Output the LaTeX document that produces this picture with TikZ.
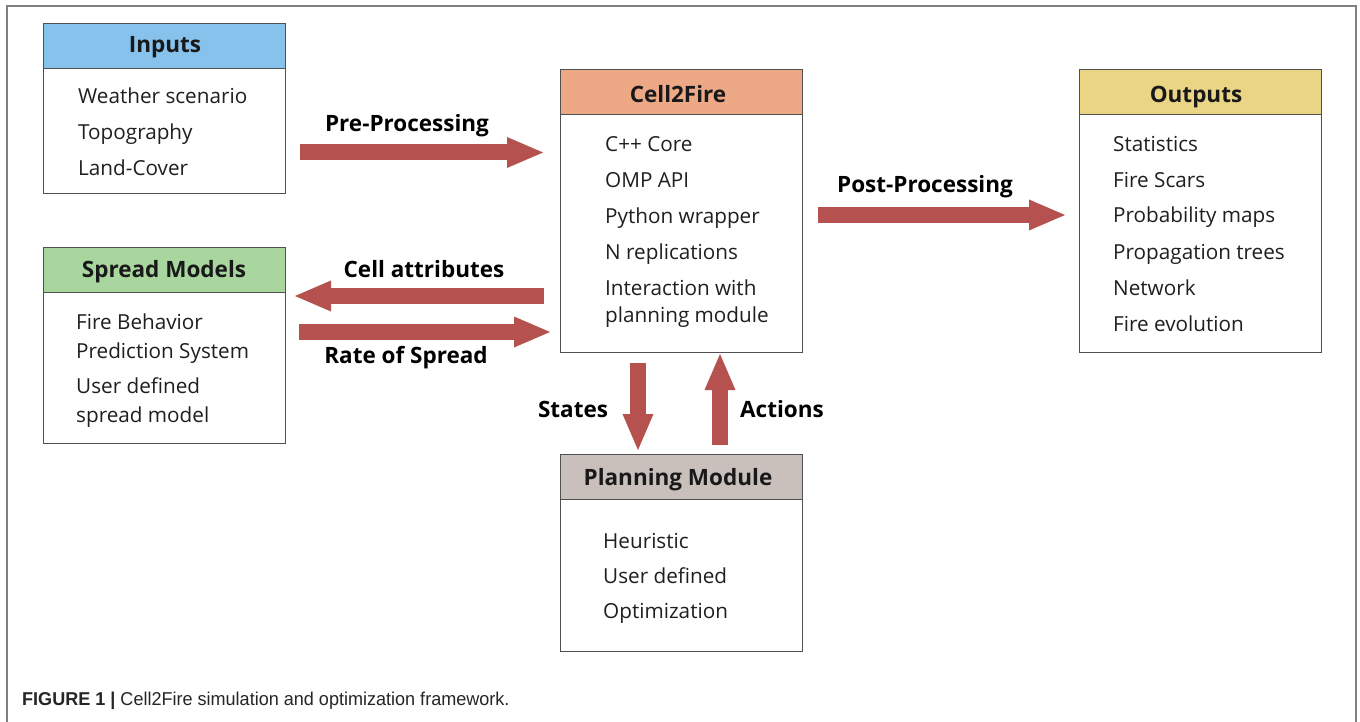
\documentclass[tikz,border=0pt]{standalone}
\usepackage{fontspec}
\setmainfont{Open Sans}
\newfontfamily\capfont[FakeStretch=0.97]{Liberation Sans}
\usetikzlibrary{arrows.meta}
\definecolor{inblue}{HTML}{86C2EC}
\definecolor{cellor}{HTML}{EDA886}
\definecolor{outyel}{HTML}{EAD584}
\definecolor{sprgrn}{HTML}{A9D59E}
\definecolor{plangr}{HTML}{C9C0BC}
\definecolor{arrred}{HTML}{B5524F}
\definecolor{boxline}{HTML}{505050}
\definecolor{framegr}{HTML}{808080}
\tikzset{
  hdr/.style={draw=boxline, line width=1.2pt, minimum width=242pt, minimum height=45pt, anchor=north west, inner sep=0pt},
  bodybox/.style={draw=boxline, line width=1.2pt, minimum width=242pt, anchor=north west, inner sep=0pt},
  hdrtxt/.style={font=\fontsize{22.5}{26}\selectfont\bfseries, anchor=base, inner sep=0pt, text=black!90},
  txt/.style={font=\fontsize{20.7}{24}\selectfont, anchor=base west, inner sep=0pt, text=black!88},
  lbl/.style={font=\fontsize{22.5}{26}\selectfont\bfseries, anchor=base, inner sep=0pt, text=black},
  bigarrow/.style={draw=arrred, line width=16pt, -{Triangle[length=36pt,width=31pt,line width=0pt]}},
}
\begin{document}
\begin{tikzpicture}[x=1pt,y=-1pt]
\useasboundingbox (0,0) rectangle (1360,722);
\fill[white] (0,0) rectangle (1360,722);
% frame
\draw[framegr, line width=1.6pt] (7,722) -- (7,6) -- (1356,6) -- (1356,722);

% Inputs
\node[hdr, fill=inblue] (inh) at (43,23) {};
\node[bodybox, minimum height=125pt] (inb) at (43,68) {};
\node[hdrtxt] at (165,53) {Inputs};
\node[txt] at (78,104) {Weather scenario};
\node[txt] at (78,140) {Topography};
\node[txt] at (78,176) {Land-Cover};

% Spread models
\node[hdr, fill=sprgrn] (sph) at (43,247) {};
\node[bodybox, minimum height=151pt] (spb) at (43,292) {};
\node[hdrtxt] at (164,277) {Spread Models};
\node[txt] at (76,329) {Fire Behavior};
\node[txt] at (76,358) {Prediction System};
\node[txt] at (76,393) {User defined};
\node[txt] at (76,422) {spread model};

% Cell2Fire
\node[hdr, fill=cellor] (ch) at (560,69) {};
\node[bodybox, minimum height=238pt] (cb) at (560,114) {};
\node[hdrtxt] at (678,103) {Cell2Fire};
\node[txt] at (605,152) {C++ Core};
\node[txt] at (605,188) {OMP API};
\node[txt] at (605,224) {Python wrapper};
\node[txt] at (605,259) {N replications};
\node[txt] at (605,295) {Interaction with};
\node[txt] at (605,322) {planning module};

% Outputs
\node[hdr, fill=outyel] (oh) at (1079,69) {};
\node[bodybox, minimum height=238pt] (ob) at (1079,114) {};
\node[hdrtxt] at (1196,103) {Outputs};
\node[txt] at (1113,152) {Statistics};
\node[txt] at (1113,188) {Fire Scars};
\node[txt] at (1113,223) {Probability maps};
\node[txt] at (1113,259) {Propagation trees};
\node[txt] at (1113,295) {Network};
\node[txt] at (1113,331) {Fire evolution};

% Planning
\node[hdr, fill=plangr] (ph) at (560,454) {};
\node[bodybox, minimum height=152pt] (pb) at (560,499) {};
\node[hdrtxt] at (678,485) {Planning Module};
\node[txt] at (603,548) {Heuristic};
\node[txt] at (603,583) {User defined};
\node[txt] at (603,618) {Optimization};

% arrow coordinates
\coordinate (preA) at (300,152.5);
\coordinate (preB) at (543,152.5);
\coordinate (postA) at (818,215);
\coordinate (postB) at (1065,215);
\coordinate (caA) at (544,296);
\coordinate (caB) at (295,296);
\coordinate (rsA) at (299,332);
\coordinate (rsB) at (550,332);
\coordinate (stA) at (638,363);
\coordinate (stB) at (638,450);
\coordinate (acA) at (720,445);
\coordinate (acB) at (720,354);

\draw[bigarrow] (preA) -- (preB);
\draw[bigarrow] (postA) -- (postB);
\draw[bigarrow] (caA) -- (caB);
\draw[bigarrow] (rsA) -- (rsB);
\draw[bigarrow] (stA) -- (stB);
\draw[bigarrow] (acA) -- (acB);

\node[lbl] at (407,132) {Pre-Processing};
\node[lbl] at (925,193) {Post-Processing};
\node[lbl] at (424,277) {Cell attributes};
\node[lbl] at (406,363) {Rate of Spread};
\node[lbl] at (573,417) {States};
\node[lbl] at (782,417) {Actions};

% caption
\node[anchor=base west, inner sep=0pt, font=\capfont\fontsize{18.6}{22}\selectfont, text=black!85] (cap) at (22,705) {\textbf{FIGURE 1 |} Cell2Fire simulation and optimization framework.};
\end{tikzpicture}
\end{document}
